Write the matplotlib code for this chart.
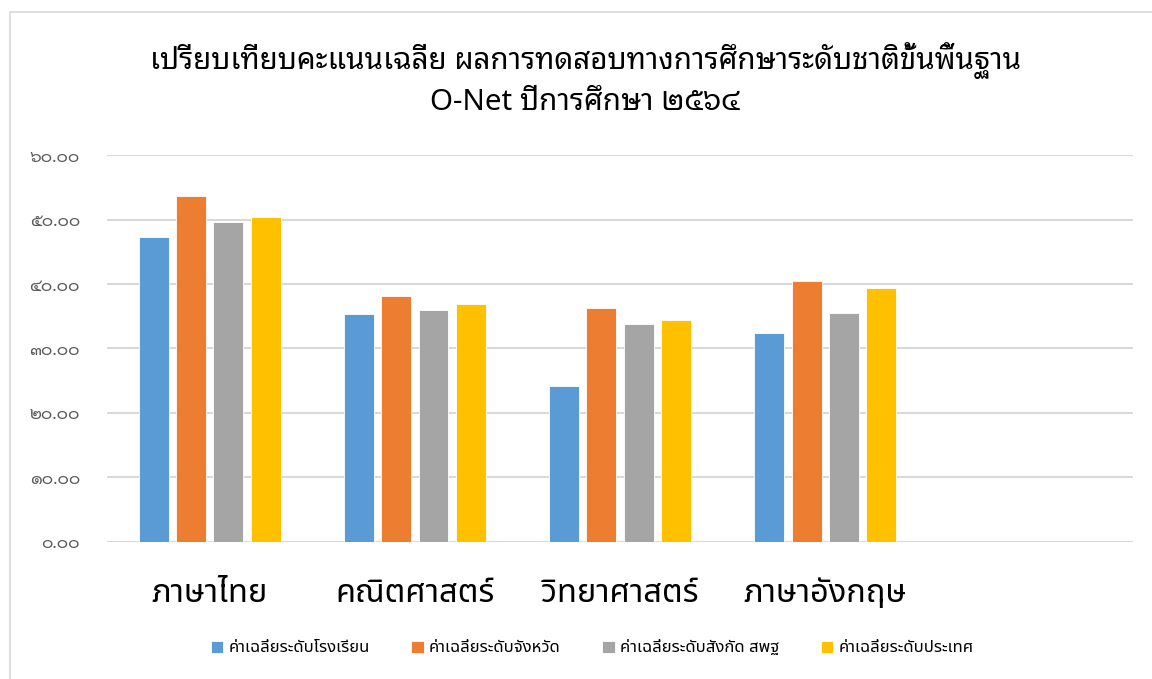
import numpy as np
import matplotlib
matplotlib.use("Agg")
import matplotlib.pyplot as plt
from matplotlib.patches import Rectangle
from matplotlib.ticker import FuncFormatter

# ข้อมูล
subjects = ["ภาษาไทย", "คณิตศาสตร์", "วิทยาศาสตร์", "ภาษาอังกฤษ", ""]
school = [47.3, 35.3, 24.2, 32.4]
province = [53.6, 38.1, 36.3, 40.5]
district = [49.6, 36.0, 33.8, 35.5]
country = [50.4, 36.9, 34.4, 39.4]
series_names = ["ค่าเฉลี่ยระดับโรงเรียน", "ค่าเฉลี่ยระดับจังหวัด",
                "ค่าเฉลี่ยระดับสังกัด สพฐ", "ค่าเฉลี่ยระดับประเทศ"]
colors = ["#5b9bd5", "#ed7d31", "#a5a5a5", "#ffc000"]

thai_digits = str.maketrans("0123456789", "๐๑๒๓๔๕๖๗๘๙")

fig = plt.figure(figsize=(11.52, 6.79), dpi=100)
ax = fig.add_axes([0.0929, 0.2018, 0.8906, 0.5699])

# กรอบของแผนภูมิ
fig.patches.append(Rectangle((10 / 1152, -0.05), 1.2, 1 - 12 / 679 + 0.05,
                             transform=fig.transFigure, fill=False,
                             edgecolor="#d9d9d9", linewidth=1.2))

x = np.arange(len(school))
step = 0.182
width = 0.146
for i, (vals, name, c) in enumerate(zip([school, province, district, country], series_names, colors)):
    ax.bar(x + (i - 1.5) * step, vals, width, color=c, label=name,
           edgecolor="white", linewidth=0.6, zorder=3)

ax.set_xlim(-0.5, len(subjects) - 0.5)
ax.set_ylim(0, 60)
ax.set_yticks(np.arange(0, 61, 10))
ax.yaxis.set_major_formatter(FuncFormatter(lambda v, p: f"{v:.2f}".translate(thai_digits)))
ax.grid(axis="y", color="#d9d9d9", linewidth=1.5, zorder=0)
for s in ax.spines.values():
    s.set_visible(False)
ax.tick_params(axis="y", length=0, pad=19.5, labelsize=12.5, labelcolor="#595959")
for t in ax.get_yticklabels():
    t.set_family(["Sarabun", "DejaVu Sans"])
ax.set_xticks(np.arange(len(subjects)))
ax.set_xticklabels(subjects, fontsize=23.5, family=["Noto Sans Thai", "DejaVu Sans"])
ax.tick_params(axis="x", length=0, pad=25)

fig.text(0.508, 0.909, "เปรียบเทียบคะแนนเฉลี่ย ผลการทดสอบทางการศึกษาระดับชาติขั้นพื้นฐาน",
         ha="center", va="center", fontsize=21.3, family=["Noto Sans Thai Looped", "DejaVu Sans"])
fig.text(0.508, 0.849, "O-Net ปีการศึกษา ๒๕๖๔",
         ha="center", va="center", fontsize=21.3, family=["Noto Sans Thai Looped", "DejaVu Sans"])

fig.legend(loc="center", bbox_to_anchor=(0.514, 0.045), ncol=4, frameon=False,
           prop={"family": ["Noto Sans Thai", "DejaVu Sans"], "size": 12},
           handlelength=0.75, handleheight=0.75, handletextpad=0.3, columnspacing=2.5)

fig.savefig("out.png", dpi=100, facecolor="white")
